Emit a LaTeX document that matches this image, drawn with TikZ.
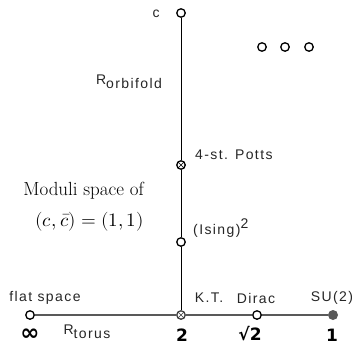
\documentclass[tikz,border=0pt]{standalone}
\usepackage{fontspec}
\usepackage{unicode-math}
\setmathfont{Latin Modern Math}
\newfontfamily\labfont[LetterSpace=10]{Liberation Sans}
\newfontfamily\numfont{DejaVu Sans}

\begin{document}
\begin{tikzpicture}[x=1pt,y=-1pt,
  pt/.style={circle,draw,line width=1.3pt,fill=white,inner sep=0pt,minimum size=8.5pt},
  xpt/.style={pt,path picture={\draw[line width=0.6pt]
    (path picture bounding box.north west) -- (path picture bounding box.south east)
    (path picture bounding box.north east) -- (path picture bounding box.south west);}},
  lab/.style={font=\labfont\fontsize{14}{16}\selectfont,text=black!85,inner sep=0pt},
  val/.style={font=\numfont\bfseries\fontsize{17}{19}\selectfont,inner sep=0pt},
  txt/.style={anchor=east,inner sep=0pt,font=\fontsize{19}{21}\selectfont}]
\useasboundingbox (0,0) rectangle (352,345);
% points of the two lines
\node[pt] (c) at (181,13) {};
\node[xpt] (potts) at (181,165) {};
\node[pt] (ising) at (181,242) {};
\node[pt] (flat) at (30,315) {};
\node[xpt,draw=black!75] (kt) at (181,315) {};
\node[pt] (dirac) at (257,315) {};
\node[circle,fill=black!65,inner sep=0pt,minimum size=10pt] (su) at (333,315) {};
\draw[line width=0.9pt] (c) -- (potts) -- (ising) -- (kt);
\draw[line width=1.2pt,black!65] (flat) -- (kt) -- (dirac) -- (su);
% isolated points
\node[pt] (iso1) at (262,47) {};
\node[pt] (iso2) at (285,47) {};
\node[pt] (iso3) at (309,47) {};
% labels
\node[lab] at (156,14) {c};
\node[lab] at (129,82) {R\raisebox{-4pt}{orbifold}};
\node[lab,anchor=west] at (195,155) {4-st. Potts};
\node[lab,anchor=west] at (193,228) {(Ising)\raisebox{6pt}{2}};
\node[txt] at (144,191) {Moduli space of};
\node[txt] at (144,222) {$(c,\bar{c})=(1,1)$};
\node[lab] at (45,298) {flat space};
\node[lab] at (209,298) {K.T.};
\node[lab] at (256,298) {Dirac};
\node[lab] at (332,298) {SU(2)};
\node[lab] at (87,332) {R\raisebox{-4pt}{torus}};
\node[val] at (30,335) {\scalebox{1.35}{∞}};
\node[val] at (182,335) {2};
\node[val] at (250,334) {√2};
\node[val] at (332,335) {1};
\end{tikzpicture}
\end{document}
